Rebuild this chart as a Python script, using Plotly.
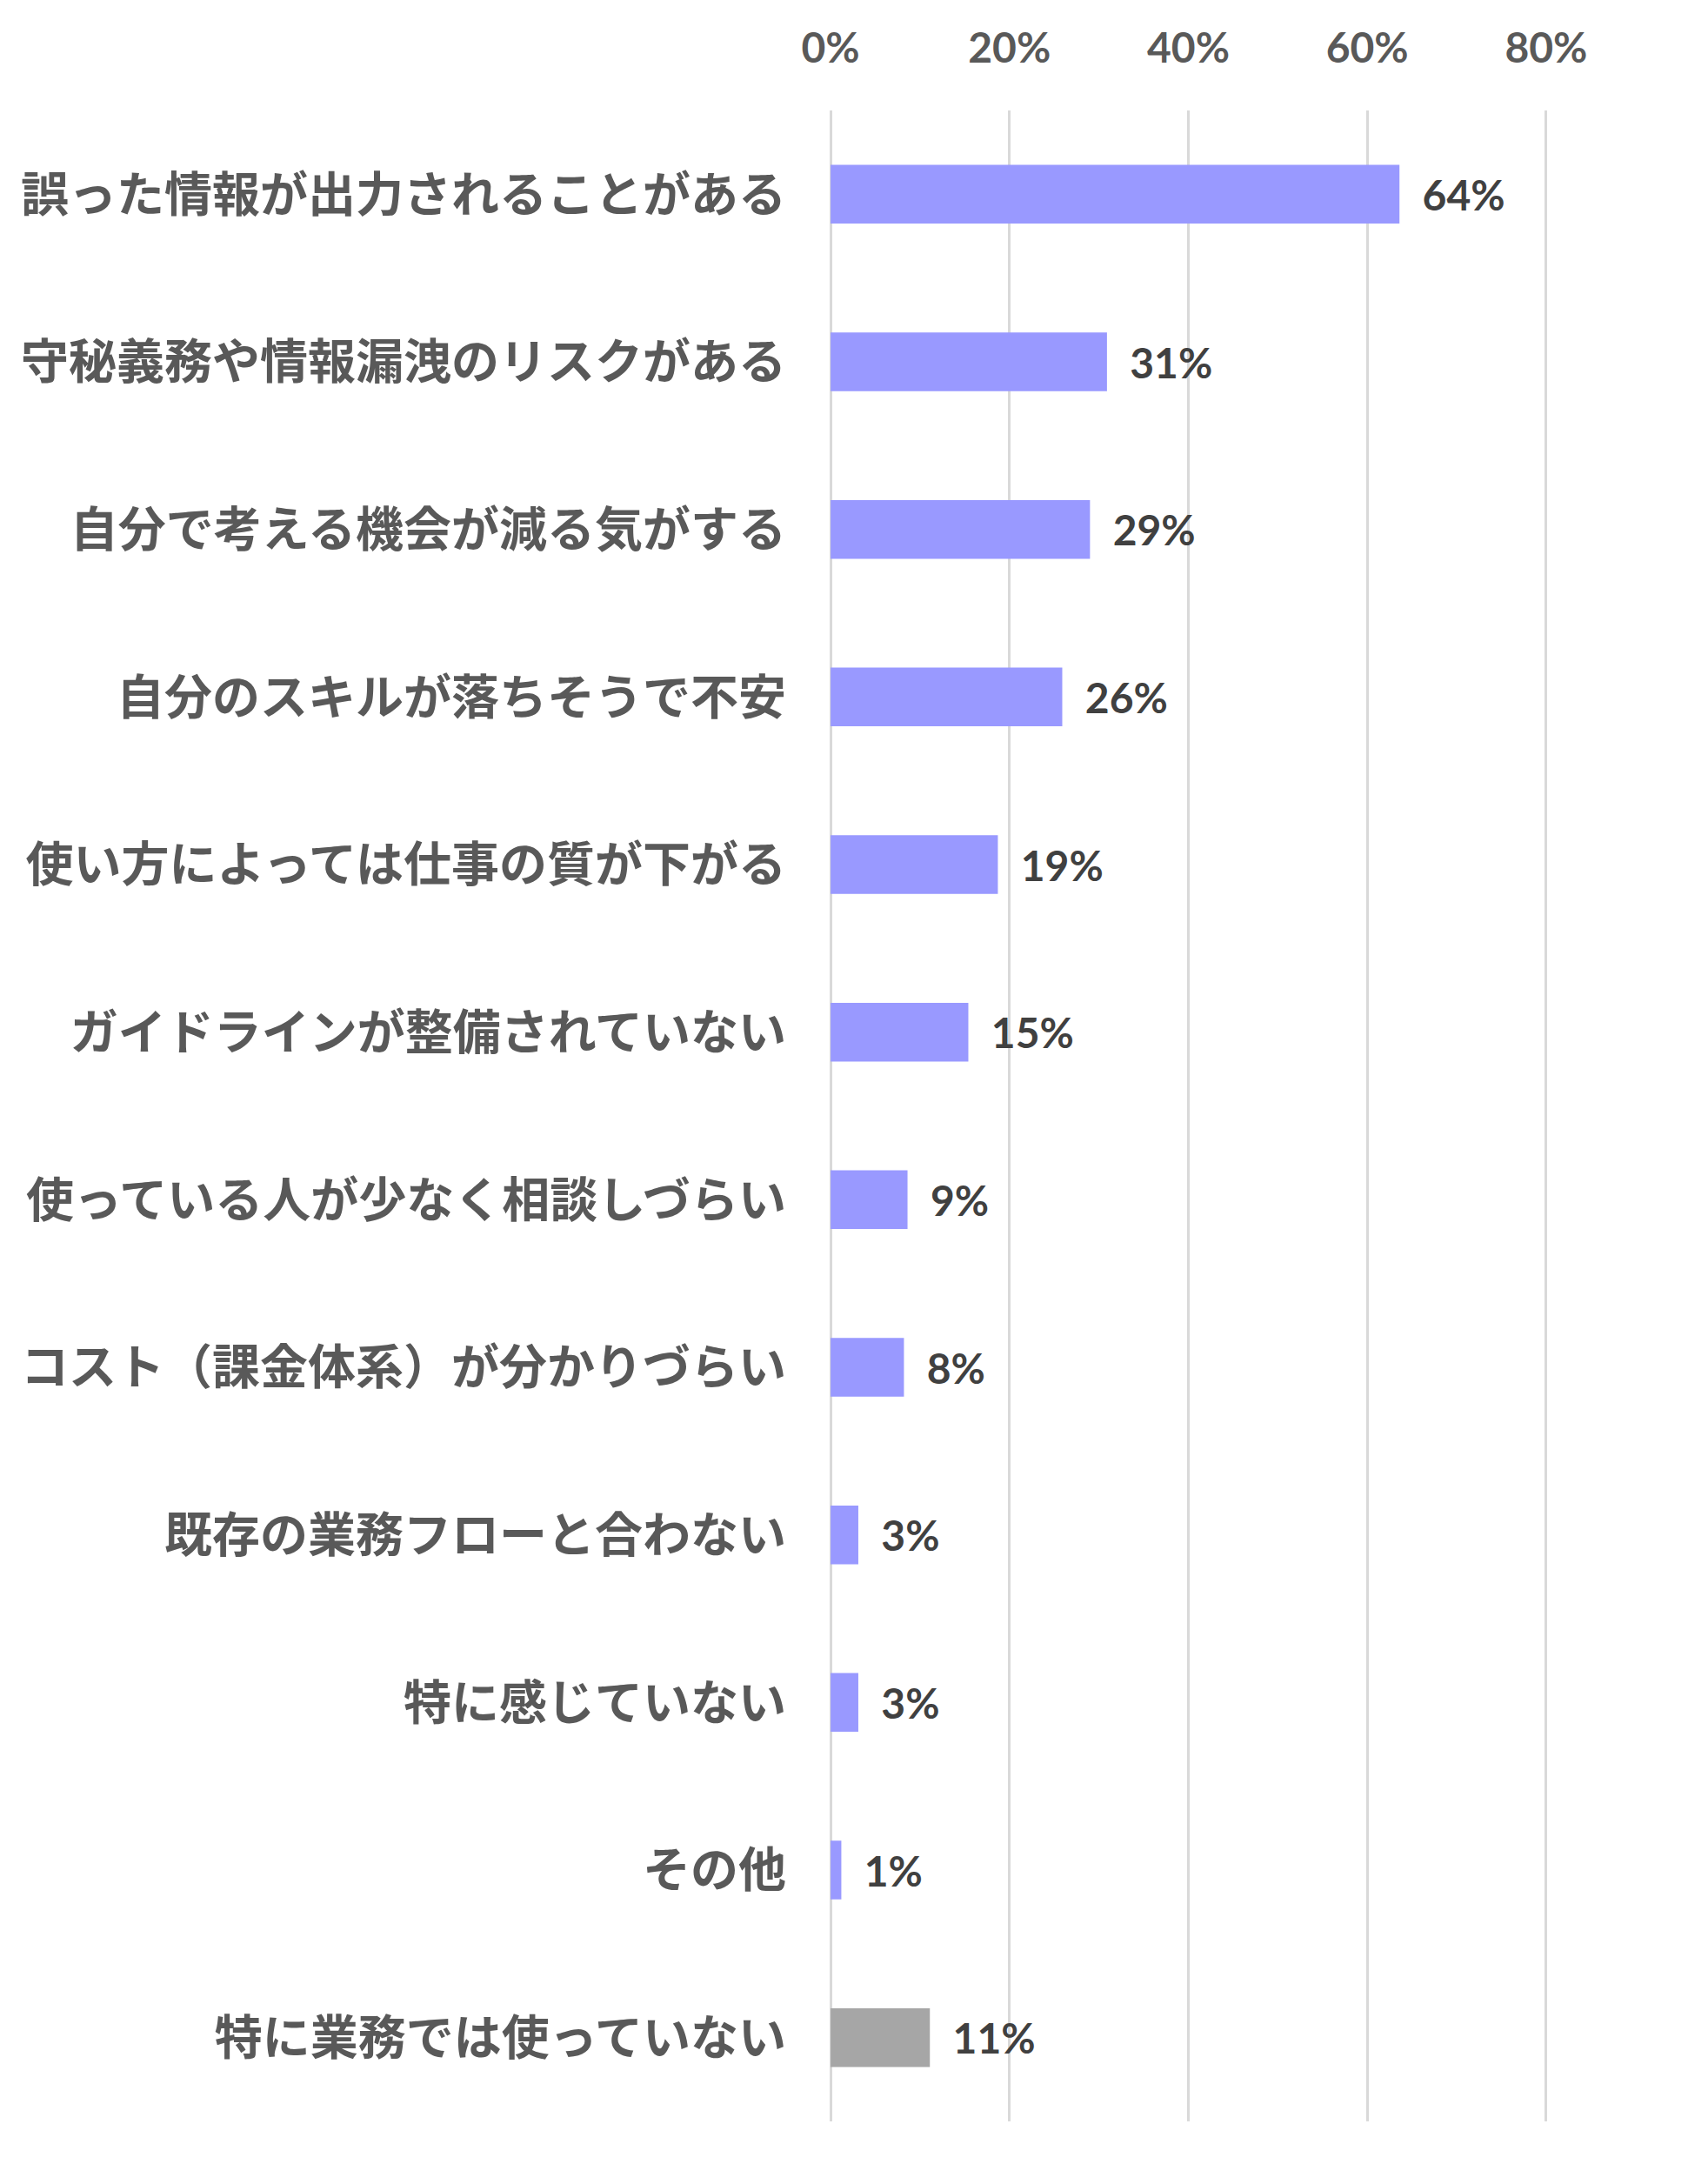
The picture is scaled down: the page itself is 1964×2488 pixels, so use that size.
import plotly.graph_objects as go

categories = [
    "誤った情報が出力されることがある",
    "守秘義務や情報漏洩のリスクがある",
    "自分で考える機会が減る気がする",
    "自分のスキルが落ちそうで不安",
    "使い方によっては仕事の質が下がる",
    "ガイドラインが整備されていない",
    "使っている人が少なく相談しづらい",
    "コスト（課金体系）が分かりづらい",
    "既存の業務フローと合わない",
    "特に感じていない",
    "その他",
    "特に業務では使っていない",
]
values = [0.636, 0.309, 0.290, 0.259, 0.187, 0.154, 0.086, 0.082, 0.031, 0.031, 0.012, 0.111]
value_labels = ["64%", "31%", "29%", "26%", "19%", "15%", "9%", "8%", "3%", "3%", "1%", "11%"]
bar_colors = ["#9999FF"] * 11 + ["#A6A6A6"]
tick_vals = [0, 0.2, 0.4, 0.6, 0.8]
tick_text = ["0%", "20%", "40%", "60%", "80%"]

pad = "\u00a0\u00a0"

fig = go.Figure(
    go.Bar(
        x=values,
        y=categories,
        orientation="h",
        width=0.35,
        marker=dict(color=bar_colors, line=dict(width=0)),
        text=[pad + t for t in value_labels],
        textposition="outside",
        cliponaxis=False,
        textfont=dict(family="Lato", size=48, color="#404040", weight="bold"),
        hoverinfo="skip",
    )
)

fig.update_layout(
    width=1964,
    height=2488,
    margin=dict(l=944, r=191, t=119, b=57, pad=0),
    paper_bgcolor="white",
    plot_bgcolor="white",
    showlegend=False,
    xaxis=dict(
        side="top",
        range=[-0.003, 0.803],
        tickvals=tick_vals,
        ticktext=tick_text,
        showgrid=True,
        gridcolor="#D9D9D9",
        gridwidth=2.5,
        zeroline=False,
        showline=False,
        ticks="",
        ticklabelstandoff=44,
        automargin=False,
        tickfont=dict(family="Lato", size=48, color="#595959", weight="bold"),
        fixedrange=True,
    ),
    yaxis=dict(
        autorange="reversed",
        showgrid=False,
        zeroline=False,
        showline=False,
        ticks="",
        ticklabelstandoff=47,
        automargin=False,
        tickfont=dict(family="Noto Sans CJK JP", size=55, color="#595959", weight="bold"),
        fixedrange=True,
    ),
)

fig.write_html("out.html")
